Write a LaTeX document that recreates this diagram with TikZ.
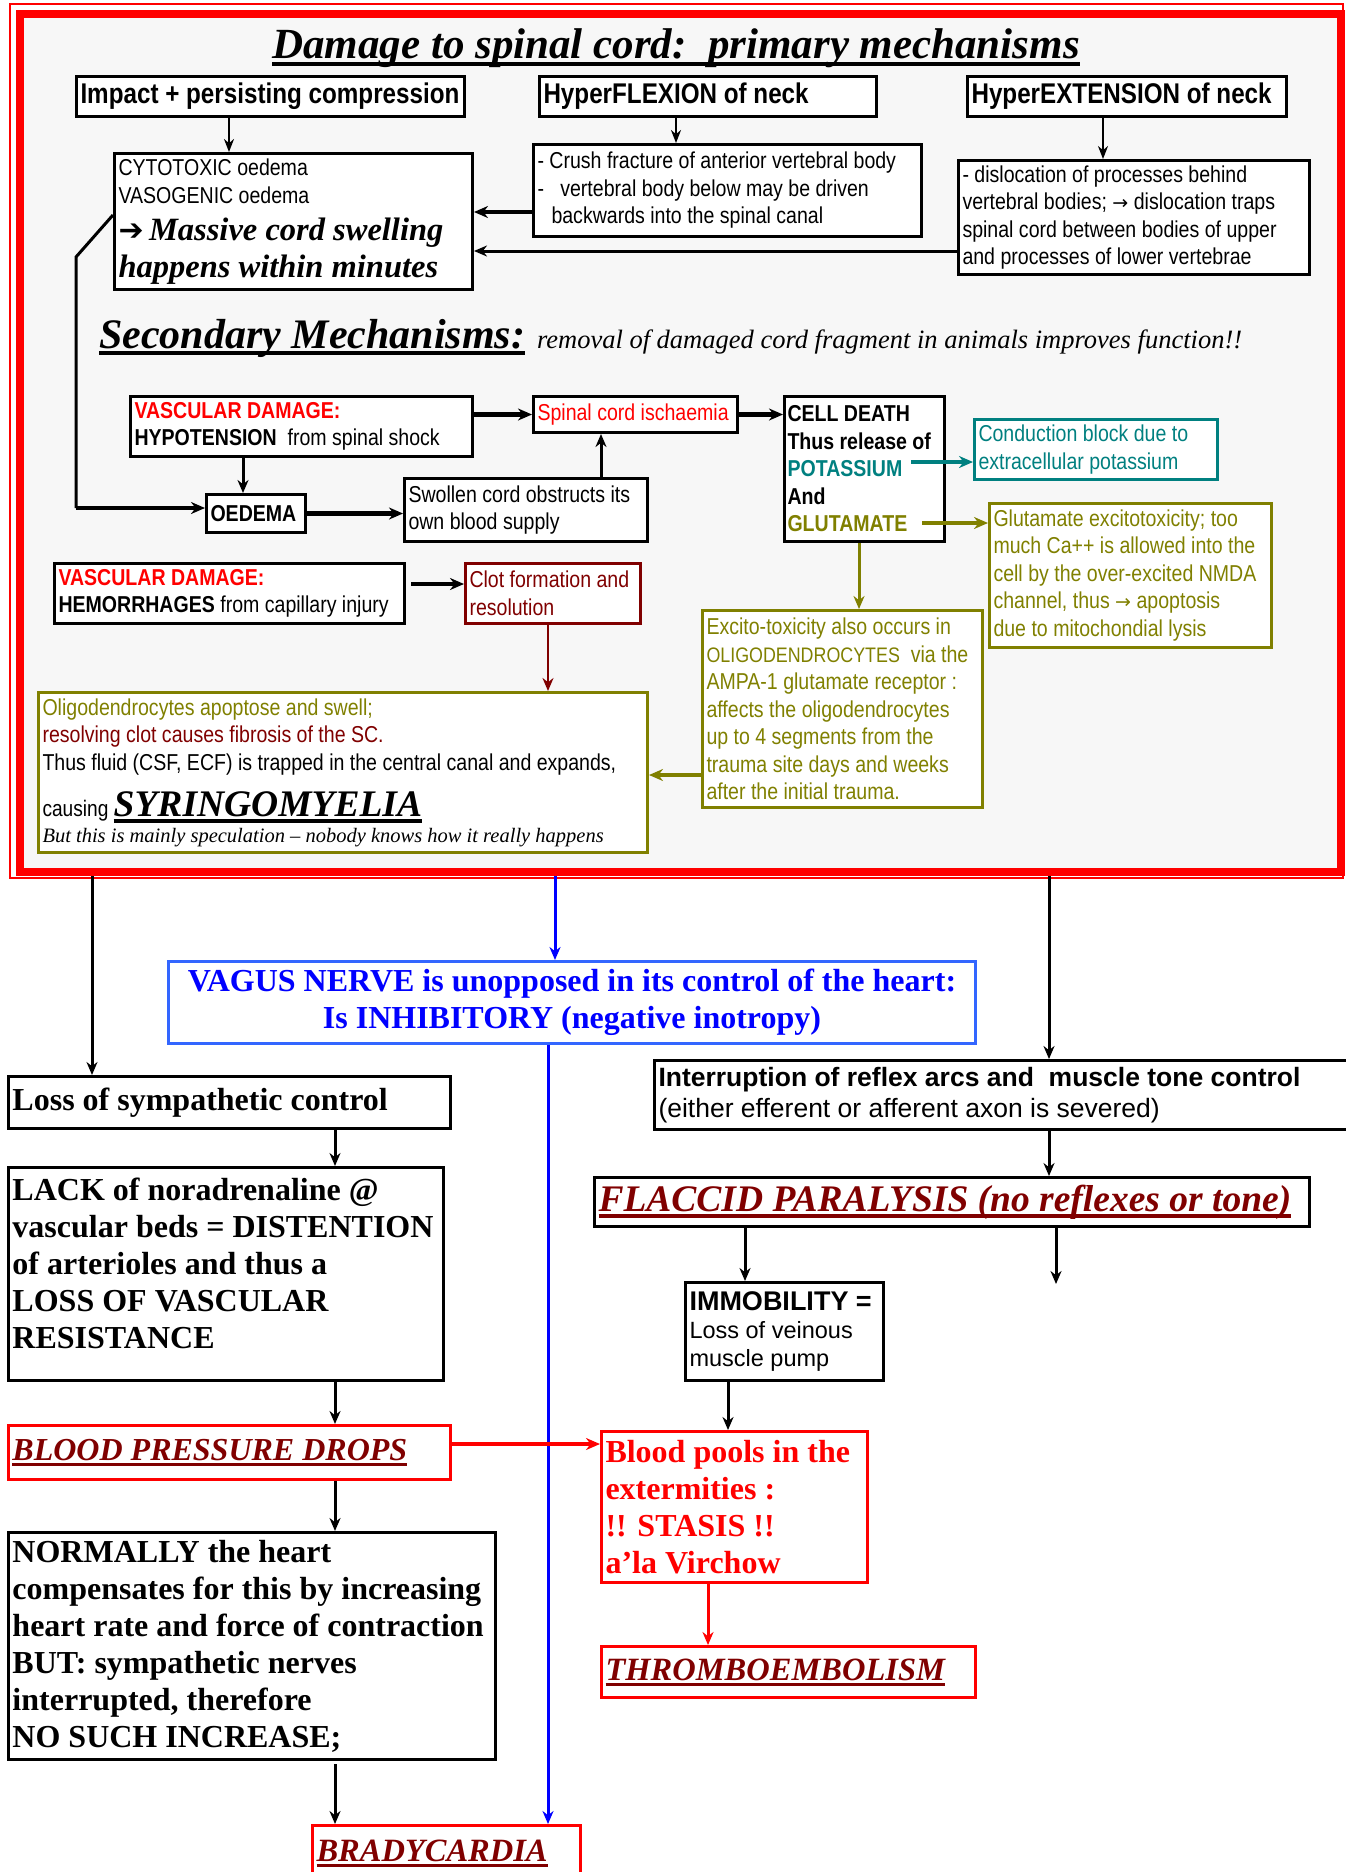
\documentclass[tikz,border=0pt]{standalone}
\usepackage{fontspec}
\setmainfont{Liberation Serif}
\setsansfont[FakeStretch=0.85]{Liberation Sans}
\newfontfamily\sfn{Liberation Sans}
\newfontfamily\djv{DejaVu Sans}
\usetikzlibrary{arrows.meta,calc}
\definecolor{myred}{HTML}{FF0000}
\definecolor{dred}{HTML}{800000}
\definecolor{olv}{HTML}{808000}
\definecolor{tl}{HTML}{008080}
\definecolor{vblue}{HTML}{0000FF}
\definecolor{vborder}{HTML}{3366FF}
\definecolor{bggray}{HTML}{F7F7F7}
\newcommand\fs[2]{\fontsize{#1}{#2}\selectfont}
\newcommand\thul[1]{\leavevmode\setbox0=\hbox{#1}\rlap{\rule[-0.17em]{\wd0}{0.09em}}\box0}
\begin{document}
\begin{tikzpicture}[x=1pt,y=-1pt,
  box/.style={draw, line width=3pt, fill=white, anchor=north west, inner xsep=4pt, inner ysep=2pt, align=left,
    execute at begin node={\spaceskip=0pt\relax\xspaceskip=0pt\relax}},
  sz/.style n args={3}{minimum width=#1pt, minimum height=#2pt, text width=#3pt},
  sans/.style={font=\sffamily\fs{23}{27.5}},
  arr/.style={-{Stealth[length=13pt,width=10pt]}, line width=2pt},
  marr/.style={-{Stealth[length=13pt,width=11pt]}, line width=3pt},
  tarr/.style={-{Stealth[length=14pt,width=12pt]}, line width=4.5pt},
  ularr/.style={line width=3pt}
]
\useasboundingbox (0,0) rectangle (1345,1872);
\fill[white] (0,0) rectangle (1345,1872);
% frame
\draw[myred, line width=2pt] (10,4) rectangle (1343,878);
\node[draw=myred, line width=8pt, fill=bggray, anchor=north west, inner sep=0pt, minimum width=1321pt, minimum height=858pt] (frame) at (16,10) {};

% title
\node (title) at (676,48) {\fs{43}{47}\bfseries\itshape\thul{Damage to spinal cord:\ \ primary mechanisms}};

% top row
\node[box, sz={388}{40}{380}, font=\sffamily\bfseries\fs{28.5}{30}] (impact) at (75,75) {Impact + persisting compression};
\node[box, sz={337}{40}{329}, font=\sffamily\bfseries\fs{28.5}{30}] (flex) at (538,75) {HyperFLEXION of neck};
\node[box, sz={319}{40}{311}, font=\sffamily\bfseries\fs{28.5}{30}] (ext) at (966,75) {HyperEXTENSION of neck};

\node[box, sz={358}{136}{350}] (cyto) at (113,152) {{\sffamily\fs{23}{27.5}CYTOTOXIC oedema\\VASOGENIC oedema\par}{\bfseries\itshape\fs{32.5}{37}{\djv\fs{30}{37}➔}\,Massive cord swelling\\happens within minutes\par}};
\node[box, sz={388}{92}{380}, sans] (crush) at (532,143) {- Crush fracture of anterior vertebral body\\-\ \ \ vertebral body below may be driven\\\hspace*{14pt}backwards into the spinal canal};
\node[box, sz={351}{114}{343}, sans] (disl) at (957,159) {- dislocation of processes behind\\vertebral bodies; {\djv\fs{19}{27.5}→} dislocation traps\\spinal cord between bodies of upper\\and processes of lower vertebrae};

\draw[arr] (impact.south -| 229,0) -- (cyto.north -| 229,0);
\draw[arr] (flex.south -| 676,0) -- (crush.north -| 676,0);
\draw[arr] (ext.south -| 1103,0) -- (disl.north -| 1103,0);
\draw[tarr] (crush.west |- 0,212) -- (cyto.east |- 0,212);
\draw[marr] (disl.west |- 0,251) -- (cyto.east |- 0,251);

% secondary heading
\node[anchor=base west, inner sep=0pt] (sec) at (99,348) {{\fs{42}{46}\bfseries\itshape\thul{Secondary Mechanisms:}}\hspace{12pt}{\fs{26.5}{30}\itshape removal of damaged cord fragment in animals improves function!!}};

% secondary boxes
\node[box, sz={342}{60}{334}, sans] (vd1) at (129,395) {{\color{myred}\bfseries VASCULAR DAMAGE:}\\{\bfseries HYPOTENSION}\ \ from spinal shock};
\node[box, sz={204}{36}{196}, sans, text=myred] (isch) at (532,395) {Spinal cord ischaemia};
\node[box, sz={160}{145}{154}, inner xsep=3pt, font=\sffamily\bfseries\fs{23}{27.5}] (cell) at (783,395) {CELL DEATH\\Thus release of\\{\color{tl}POTASSIUM}\\And\\{\color{olv}GLUTAMATE}};
\node[box, sz={243}{60}{235}, sans, draw=tl, text=tl] (cond) at (973,418) {Conduction block due to\\extracellular potassium};
\node[box, sz={282}{144}{274}, sans, draw=olv, text=olv] (glut) at (988,502) {Glutamate excitotoxicity; too\\much Ca++ is allowed into the\\cell by the over-excited NMDA\\channel, thus {\djv\fs{19}{27.5}→} apoptosis\\due to mitochondial lysis};
\node[box, sz={99}{38}{91}, font=\sffamily\bfseries\fs{23}{27.5}] (oedema) at (205,493) {OEDEMA};
\node[box, sz={243}{63}{235}, sans] (swollen) at (403,477) {Swollen cord obstructs its\\own blood supply};
\node[box, sz={350}{60}{342}, sans] (vd2) at (53,562) {{\color{myred}\bfseries VASCULAR DAMAGE:}\\{\bfseries HEMORRHAGES} from capillary injury};
\node[box, sz={175}{60}{167}, sans, draw=dred, text=dred] (clot) at (464,562) {Clot formation and\\resolution};
\node[box, sz={280}{197}{272}, sans, draw=olv, text=olv] (excito) at (701,609) {Excito-toxicity also occurs in\\{\fs{21}{27.5}OLIGODENDROCYTES}\ \ via the\\AMPA-1 glutamate receptor :\\affects the oligodendrocytes\\up to 4 segments from the\\trauma site days and weeks\\after the initial trauma.};
\node[box, sz={609}{160}{601}, sans, draw=olv] (oligo) at (37,691) {{\color{olv}Oligodendrocytes apoptose and swell;}\\{\color{dred}resolving clot causes fibrosis of the SC.}\\Thus fluid (CSF, ECF) is trapped in the central canal and expands,\par
{\fs{22.5}{46}causing {\rmfamily\bfseries\itshape\fs{37.5}{46}\thul{SYRINGOMYELIA}}\par}
{\rmfamily\itshape\fs{20.5}{26}But this is mainly speculation -- nobody knows how it really happens\par}};

% secondary connectors
\draw[ularr] (cyto.west |- 0,215) -- (76,257) -- (76,508);
\draw[tarr] (76,508) -- (oedema.west |- 0,508);
\draw[tarr] (vd1.east |- isch.west) -- (isch.west);
\draw[tarr] (isch.east) -- (cell.west |- isch.east);
\coordinate (kstart) at (911,462);
\draw[tarr, tl] (kstart) -- (cond.west |- kstart);
\coordinate (gstart) at (922,523);
\draw[tarr, olv] (gstart) -- (glut.west |- gstart);
\draw[marr] (vd1.south -| 243,0) -- (oedema.north -| 243,0);
\draw[tarr] (oedema.east) -- (swollen.west |- oedema.east);
\draw[marr] (swollen.north -| 601,0) -- (isch.south -| 601,0);
\coordinate (hstart) at (411,584);
\draw[tarr] (hstart) -- (clot.west |- hstart);
\draw[marr, dred, line width=2.5pt] (clot.south -| 548,0) -- (oligo.north -| 548,0);
\draw[marr, olv] (cell.south -| 859,0) -- (excito.north -| 859,0);
\draw[tarr, olv] (excito.west |- 0,775) -- (oligo.east |- 0,775);

% lower part
\node[box, sz={807}{82}{799}, draw=vborder, text=vblue, align=center, font=\bfseries\fs{32}{37},
  execute at begin node={\spaceskip=.25em\relax}] (vagus) at (167,960) {VAGUS NERVE is unopposed in its control of the heart:\\Is INHIBITORY (negative inotropy)};
\node[box, sz={442}{52}{434}, font=\bfseries\fs{32}{37}] (loss) at (7,1075) {Loss of sympathetic control};
\node[box, sz={435}{213}{427}, font=\bfseries\fs{32}{37}] (lack) at (7,1166) {\parbox[c][193pt][t]{427pt}{LACK of noradrenaline @\\vascular beds = DISTENTION\\of arterioles and thus a\\LOSS OF VASCULAR\\RESISTANCE}};
\node[box, sz={442}{54}{434}, draw=myred, text=dred, font=\bfseries\itshape\fs{32}{37}] (bp) at (7,1424) {\thul{BLOOD PRESSURE DROPS}};
\node[box, sz={487}{227}{479}, font=\bfseries\fs{32}{37}] (normally) at (7,1531) {NORMALLY the heart\\compensates for this by increasing\\heart rate and force of contraction\\BUT: sympathetic nerves\\interrupted, therefore\\NO SUCH INCREASE;};
\node[box, sz={268}{56}{260}, draw=myred, text=dred, font=\bfseries\itshape\fs{32.5}{37}] (brady) at (311,1824) {\thul{BRADYCARDIA}};
\node[box, sz={700}{69}{692}, font=\sfn\fs{26.5}{31}] (interr) at (653,1059) {{\bfseries Interruption of reflex arcs and\ \ muscle tone control}\\(either efferent or afferent axon is severed)};
\node[box, sz={715}{49}{707}, text=dred, font=\bfseries\itshape\fs{37.5}{40}] (flaccid) at (593,1176) {\thul{FLACCID PARALYSIS (no reflexes or tone)}};
\node[box, sz={198}{98}{190}] (immob) at (684,1281) {{\sfn\bfseries\fs{27}{29}IMMOBILITY =\par}{\sfn\fs{23.5}{28}Loss of veinous\\muscle pump\par}};
\node[box, sz={266}{151}{258}, draw=myred, text=myred, font=\bfseries\fs{32}{37}] (pools) at (600,1430) {Blood pools in the\\extermities :\\!! STASIS !!\\a’la Virchow};
\node[box, sz={374}{51}{366}, draw=myred, text=dred, font=\bfseries\itshape\fs{32.5}{37}] (thrombo) at (600,1645) {\thul{THROMBOEMBOLISM}};

% lower connectors
\coordinate (f1) at (92,0);
\coordinate (f2) at (555,0);
\coordinate (f3) at (1049,0);
\draw[marr] (frame.south -| f1) -- (loss.north -| f1);
\draw[marr, vblue] (frame.south -| f2) -- (vagus.north -| f2);
\draw[marr] (frame.south -| f3) -- (interr.north -| f3);
\draw[marr, vblue] (vagus.south -| 548,0) -- (brady.north -| 548,0);
\draw[marr] (loss.south -| 335,0) -- (lack.north -| 335,0);
\draw[marr] (lack.south -| 335,0) -- (bp.north -| 335,0);
\draw[marr] (bp.south -| 335,0) -- (normally.north -| 335,0);
\coordinate (nbot) at (335,1764);
\draw[marr] (nbot) -- (brady.north -| nbot);
\coordinate (bpr) at (0,1444);
\draw[-{Stealth[length=14pt,width=12pt]}, line width=4pt, myred] (bp.east |- bpr) -- (pools.west |- bpr);
\draw[marr] (interr.south -| 1049,0) -- (flaccid.north -| 1049,0);
\draw[marr] (flaccid.south -| 745,0) -- (immob.north -| 745,0);
\coordinate (free) at (1056,1284);
\draw[marr] (flaccid.south -| free) -- (free);
\draw[marr] (immob.south -| 728,0) -- (pools.north -| 728,0);
\draw[marr, myred] (pools.south -| 708,0) -- (thrombo.north -| 708,0);
\end{tikzpicture}
\end{document}
